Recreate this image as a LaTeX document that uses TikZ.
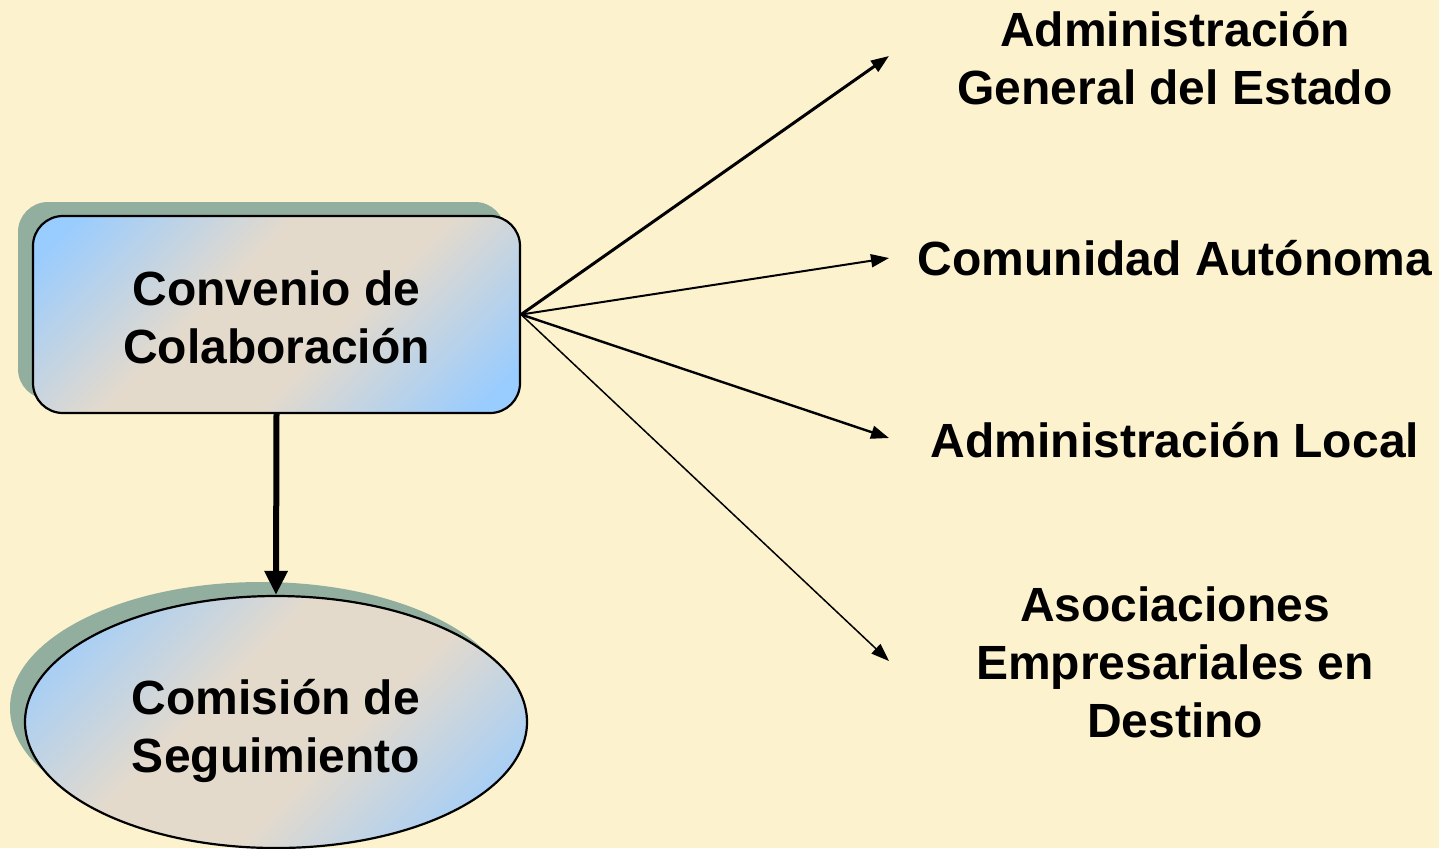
\documentclass[tikz,border=0pt]{standalone}
\usepackage{fontspec}
\setmainfont{Liberation Sans}
\usetikzlibrary{arrows.meta,shapes.geometric,shadows}
\definecolor{bg}{RGB}{252,242,206}
\definecolor{skyb}{RGB}{153,204,255}
\definecolor{beig}{RGB}{228,218,204}
\definecolor{shad}{RGB}{146,174,158}
\pgfdeclareverticalshading{diagshade}{100bp}{color(0bp)=(skyb); color(19bp)=(skyb); color(42bp)=(beig); color(58bp)=(beig); color(81bp)=(skyb); color(100bp)=(skyb)}
\begin{document}
\begin{tikzpicture}[x=0.5pt,y=-0.5pt,
  lbl/.style={font=\fontsize{24}{29}\selectfont\bfseries, align=center, inner sep=0pt},
  grad/.style={shade, shading=diagshade, shading angle=45,
    draw=black, line width=1.1pt,
    drop shadow={opacity=1, fill=shad, shadow xshift=-7.5pt, shadow yshift=7pt}},
  conn/.style={-{Triangle[length=9pt,width=6.5pt]}}
]
\fill[bg] (0,0) rectangle (1439,848);
\useasboundingbox (0,0) rectangle (1439,848);

\node[grad, lbl, rounded corners=15pt, minimum width=243.5pt, minimum height=98.5pt] (box) at (276.5,314.5) {\rule{0pt}{20pt}Convenio de\\Colaboración};
\node[grad, lbl, ellipse, minimum width=251pt, minimum height=126pt] (ell) at (276,722) {\rule{0pt}{27pt}Comisión de\\Seguimiento};

\node[lbl] (t1) at (1175,58) {Administración\\General del Estado};
\node[lbl] (t2) at (1175,258) {Comunidad Autónoma};
\node[lbl] (t3) at (1175,440) {Administración Local};
\node[lbl] (t4) at (1175,662) {Asociaciones\\Empresariales en\\Destino};

\coordinate (e1) at (889,56);
\coordinate (e2) at (889,258);
\coordinate (e3) at (889,438);
\coordinate (e4) at (889,661);

\draw[conn, line width=1.5pt] (box.east) -- (e1);
\draw[conn, line width=1pt] (box.east) -- (e2);
\draw[conn, line width=1.2pt] (box.east) -- (e3);
\draw[conn, line width=0.75pt] (box.east) -- (e4);
\draw[-{Triangle[length=12pt,width=11pt]}, line width=3pt] (box.south) -- (ell.north);
\end{tikzpicture}
\end{document}
